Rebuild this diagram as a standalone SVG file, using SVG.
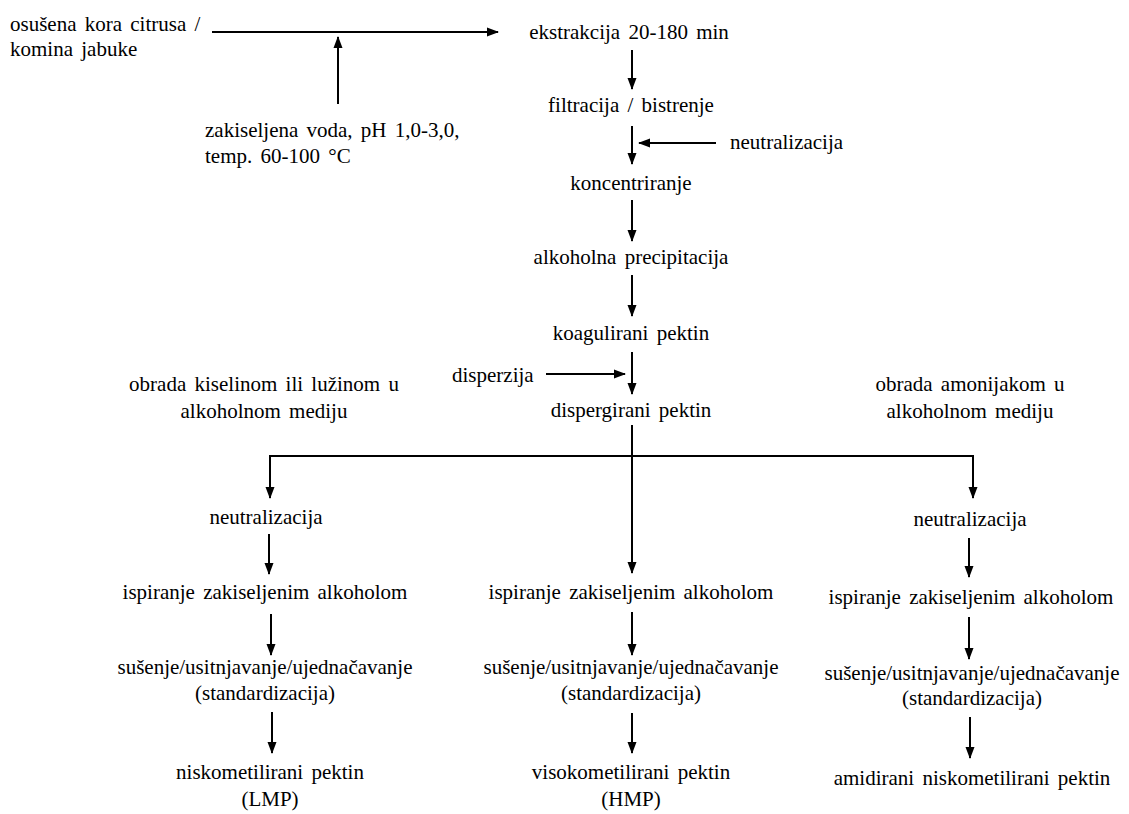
<svg xmlns="http://www.w3.org/2000/svg" width="1129" height="814" viewBox="0 0 1129 814">
<style>
text{font-family:'Liberation Serif','Times New Roman',serif;font-size:21px;fill:#000;word-spacing:3px}
.c{text-anchor:middle}
.ln{stroke:#000;stroke-width:2;fill:none}
.ar{stroke:#000;stroke-width:2;fill:none;marker-end:url(#ah)}
</style>
<defs>
<marker id="ah" markerUnits="userSpaceOnUse" markerWidth="12" markerHeight="12" viewBox="0 0 12 12" refX="11" refY="6" orient="auto">
<path d="M0,1.5 L12,6 L0,10.5 Z" fill="#000"/>
</marker>
</defs>
<rect width="1129" height="814" fill="#fff"/>
<g id="connectors">
<line class="ar" x1="212" y1="32" x2="498" y2="32"/>
<line class="ar" x1="338" y1="104" x2="338" y2="37"/>
<line class="ar" x1="632" y1="50" x2="632" y2="89"/>
<line class="ar" x1="632" y1="126" x2="632" y2="164"/>
<line class="ar" x1="716" y1="143" x2="639" y2="143"/>
<line class="ar" x1="632" y1="200" x2="632" y2="241"/>
<line class="ar" x1="632" y1="275" x2="632" y2="316"/>
<line class="ar" x1="632" y1="352" x2="632" y2="394"/>
<line class="ar" x1="546" y1="374" x2="625" y2="374"/>
<line class="ln" x1="270" y1="456" x2="973" y2="456"/>
<line class="ar" x1="270" y1="455" x2="270" y2="498"/>
<line class="ar" x1="973" y1="455" x2="973" y2="498"/>
<line class="ar" x1="632" y1="425" x2="632" y2="573"/>
<line class="ar" x1="269" y1="534" x2="269" y2="574"/>
<line class="ar" x1="969" y1="538" x2="969" y2="577"/>
<line class="ar" x1="271" y1="614" x2="271" y2="655"/>
<line class="ar" x1="632" y1="612" x2="632" y2="655"/>
<line class="ar" x1="969" y1="617" x2="969" y2="659"/>
<line class="ar" x1="272" y1="712" x2="272" y2="753"/>
<line class="ar" x1="632" y1="713" x2="632" y2="753"/>
<line class="ar" x1="970" y1="717" x2="970" y2="758"/>
</g>
<g id="n-input"><text x="10" y="31">osušena kora citrusa /</text><text x="10" y="56">komina jabuke</text></g>
<g id="n-water"><text x="205" y="137">zakiseljena voda, pH 1,0-3,0,</text><text x="205" y="163">temp. 60-100 °C</text></g>
<g id="n-extr"><text class="c" x="629" y="39">ekstrakcija 20-180 min</text></g>
<g id="n-filt"><text class="c" x="631" y="112">filtracija / bistrenje</text></g>
<g id="n-neut0"><text x="730" y="149">neutralizacija</text></g>
<g id="n-konc"><text class="c" x="631" y="190">koncentriranje</text></g>
<g id="n-prec"><text class="c" x="631" y="264">alkoholna precipitacija</text></g>
<g id="n-koag"><text class="c" x="631" y="340">koagulirani pektin</text></g>
<g id="n-disp"><text x="452" y="382">disperzija</text></g>
<g id="n-dispp"><text class="c" x="631" y="417">dispergirani pektin</text></g>
<g id="n-acid"><text class="c" x="264" y="391">obrada kiselinom ili lužinom u</text><text class="c" x="264" y="418">alkoholnom mediju</text></g>
<g id="n-amon"><text class="c" x="970" y="391">obrada amonijakom u</text><text class="c" x="970" y="418">alkoholnom mediju</text></g>
<g id="n-neutL"><text class="c" x="266" y="524">neutralizacija</text></g>
<g id="n-neutR"><text class="c" x="970" y="526">neutralizacija</text></g>
<g id="n-ispL"><text class="c" x="265" y="599">ispiranje zakiseljenim alkoholom</text></g>
<g id="n-ispM"><text class="c" x="631" y="599">ispiranje zakiseljenim alkoholom</text></g>
<g id="n-ispR"><text class="c" x="971" y="604">ispiranje zakiseljenim alkoholom</text></g>
<g id="n-susL"><text class="c" x="265" y="674">sušenje/usitnjavanje/ujednačavanje</text><text class="c" x="265" y="700">(standardizacija)</text></g>
<g id="n-susM"><text class="c" x="631" y="674">sušenje/usitnjavanje/ujednačavanje</text><text class="c" x="631" y="700">(standardizacija)</text></g>
<g id="n-susR"><text class="c" x="972" y="680">sušenje/usitnjavanje/ujednačavanje</text><text class="c" x="972" y="705">(standardizacija)</text></g>
<g id="n-LMP"><text class="c" x="270" y="779">niskometilirani pektin</text><text class="c" x="270" y="806">(LMP)</text></g>
<g id="n-HMP"><text class="c" x="631" y="779">visokometilirani pektin</text><text class="c" x="631" y="806">(HMP)</text></g>
<g id="n-amid"><text class="c" x="972" y="785">amidirani niskometilirani pektin</text></g>
</svg>
